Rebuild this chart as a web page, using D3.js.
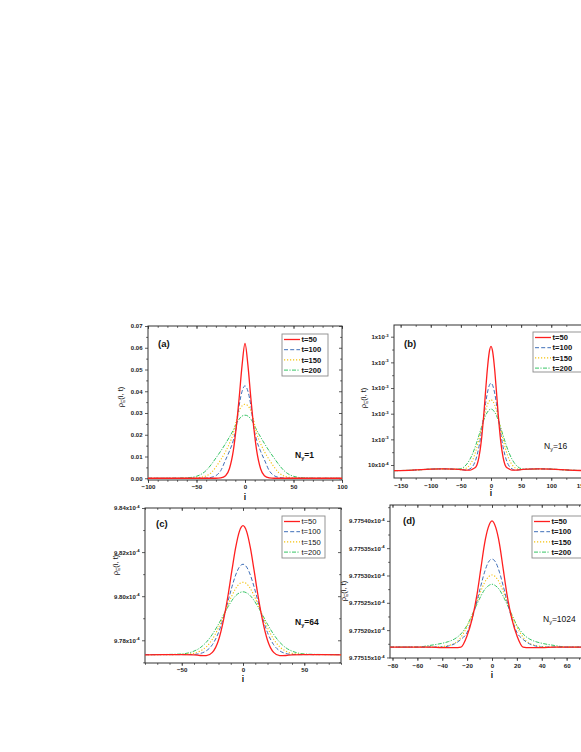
<!DOCTYPE html>
<html>
<head>
<meta charset="utf-8">
<script src="https://cdn.jsdelivr.net/npm/d3@7"></script>
<style>
body { margin: 0; background: #fff; }
svg { display: block; }
text { font-family: "Liberation Sans", Arial, sans-serif; }
</style>
</head>
<body>
<svg id="chart" width="581" height="752"></svg>
<script>
// legend entries and line styles
var times = ["t=50", "t=100", "t=150", "t=200"];
var colors = ["#ff1f1f", "#3f6fb8", "#f4c20d", "#35c463"];
var dashes = [null, "4,2.2", "1.2,1.8", "4,1.4,1.2,1.4"];
var widths = [1.3, 1, 1.1, 1];

// (a) N_y = 1
var xA = [-100,-80,-60,-50,-40,-35,-30,-25,-20,-16,-12,-9,-6,-3,0,3,6,9,12,16,20,25,30,35,40,50,60,80,100];
var a50  = [0,0,0,0,0,0,0,0.0002,0.0012,0.0045,0.0128,0.0235,0.037,0.052,0.062,0.052,0.037,0.0235,0.0128,0.0045,0.0012,0.0002,0,0,0,0,0,0,0];
var a100 = [0,0,0,0,0.0001,0.0004,0.0012,0.0035,0.0085,0.0125,0.0175,0.0235,0.0335,0.0400,0.0425,0.0400,0.0335,0.0235,0.0175,0.0125,0.0085,0.0035,0.0012,0.0004,0.0001,0,0,0,0];
var a150 = [0,0,0,0.0002,0.0011,0.0025,0.0052,0.0085,0.0123,0.0160,0.0207,0.0265,0.0310,0.0333,0.0340,0.0333,0.0310,0.0265,0.0207,0.0160,0.0123,0.0085,0.0052,0.0025,0.0011,0.0002,0,0,0];
var a200 = [0,0,0.0002,0.0009,0.0036,0.0062,0.0093,0.0125,0.0160,0.0190,0.0222,0.0250,0.0272,0.0286,0.0290,0.0286,0.0272,0.0250,0.0222,0.0190,0.0160,0.0125,0.0093,0.0062,0.0036,0.0009,0.0002,0,0];
var yTicksA = [0, 0.01, 0.02, 0.03, 0.04, 0.05, 0.06, 0.07];
var yLabelsA = ["0.00", "0.01", "0.02", "0.03", "0.04", "0.05", "0.06", "0.07"];
var xTicksA = [-100, -50, 0, 50, 100];

// (b) N_y = 16  (values in units of 10^-3)
var xB = [-161,-130,-100,-80,-60,-50,-40,-35,-30,-25,-20,-16,-12,-9,-6,-3,0,3,6,9,12,16,20,25,30,35,40,50,60,80,100,130,161];
var b50  = [0.99989,0.9999,0.99992,0.999925,0.99992,0.99991,0.9999,0.9999,0.999925,0.999965,1.000155,1.000475,1.00098,1.001435,1.00187,1.00219,1.00231,1.00219,1.00187,1.001435,1.00098,1.000475,1.000155,0.999965,0.999925,0.9999,0.9999,0.99991,0.99992,0.999925,0.99992,0.9999,0.99989];
var b100 = [0.99989,0.9999,0.99992,0.999925,0.99992,0.99991,0.9999,0.999925,0.99998,1.000115,1.000355,1.00063,1.000955,1.0012,1.001405,1.001545,1.001595,1.001545,1.001405,1.0012,1.000955,1.00063,1.000355,1.000115,0.99998,0.999925,0.9999,0.99991,0.99992,0.999925,0.99992,0.9999,0.99989];
var b150 = [0.99989,0.9999,0.99992,0.999925,0.99992,0.99991,0.999945,1.000005,1.00011,1.00028,1.000505,1.00071,1.00092,1.00106,1.001175,1.001245,1.00127,1.001245,1.001175,1.00106,1.00092,1.00071,1.000505,1.00028,1.00011,1.000005,0.999945,0.99991,0.99992,0.999925,0.99992,0.9999,0.99989];
var b200 = [0.99989,0.9999,0.99992,0.999925,0.999915,0.99993,1.00002,1.00011,1.000235,1.000395,1.00058,1.00073,1.000875,1.000965,1.00103,1.001075,1.00109,1.001075,1.00103,1.000965,1.000875,1.00073,1.00058,1.000395,1.000235,1.00011,1.00002,0.99993,0.999915,0.999925,0.99992,0.9999,0.99989];
var yTicksB = [1.0000, 1.0005, 1.0010, 1.0015, 1.0020, 1.0025];
var yLabelsB = ["10x10", "1x10", "1x10", "1x10", "1x10", "1x10"];
var yExpB = ["-4", "-3", "-3", "-3", "-3", "-3"];
var xTicksB = [-150, -100, -50, 0, 50, 100, 150];

// (c) N_y = 64  (values in units of 10^-4)
var xC = [-80,-60,-50,-40,-35,-30,-25,-20,-16,-12,-9,-6,-3,0,3,6,9,12,16,20,25,30,35,40,50,60,80];
var c50  = [9.7734,9.7735,9.7735,9.7734,9.7731,9.7730,9.7745,9.7800,9.7889,9.8011,9.8119,9.8220,9.8293,9.8320,9.8293,9.8220,9.8119,9.8011,9.7889,9.7800,9.7745,9.7730,9.7731,9.7734,9.7735,9.7735,9.7734];
var c100 = [9.7735,9.7735,9.7735,9.7736,9.7740,9.7752,9.7780,9.7835,9.7901,9.7982,9.8043,9.8096,9.8132,9.8145,9.8132,9.8096,9.8043,9.7982,9.7901,9.7835,9.7780,9.7752,9.7740,9.7736,9.7735,9.7735,9.7735];
var c150 = [9.7735,9.7735,9.7736,9.7741,9.7751,9.7770,9.7805,9.7857,9.7909,9.7965,9.8003,9.8035,9.8056,9.8063,9.8056,9.8035,9.8003,9.7965,9.7909,9.7857,9.7805,9.7770,9.7751,9.7741,9.7736,9.7735,9.7735];
var c200 = [9.7735,9.7736,9.7738,9.7751,9.7766,9.7791,9.7827,9.7873,9.7914,9.7954,9.7981,9.8002,9.8015,9.8020,9.8015,9.8002,9.7981,9.7954,9.7914,9.7873,9.7827,9.7791,9.7766,9.7751,9.7738,9.7736,9.7735];
var yTicksC = [9.78, 9.80, 9.82, 9.84];
var yLabelsC = ["9.78x10", "9.80x10", "9.82x10", "9.84x10"];
var xTicksC = [-50, 0, 50];

// (d) N_y = 1024  (values in units of 10^-4)
var xD = [-82,-60,-50,-40,-35,-30,-25,-20,-16,-12,-9,-6,-3,0,3,6,9,12,16,20,25,30,35,40,50,60,82];
var d50  = [9.775169,9.775169,9.775169,9.775168,9.775168,9.775168,9.775169,9.775190,9.775220,9.775266,9.775312,9.775358,9.775388,9.775400,9.775388,9.775358,9.775312,9.775266,9.775220,9.775190,9.775169,9.775168,9.775168,9.775168,9.775169,9.775169,9.775169];
var d100 = [9.775169,9.775169,9.775169,9.775169,9.775171,9.775175,9.775183,9.775196,9.775221,9.775254,9.775281,9.775306,9.775324,9.775330,9.775324,9.775306,9.775281,9.775254,9.775221,9.775196,9.775183,9.775175,9.775171,9.775169,9.775169,9.775169,9.775169];
var d150 = [9.775169,9.775169,9.775169,9.775170,9.775172,9.775176,9.775187,9.775206,9.775227,9.775252,9.775271,9.775287,9.775297,9.775301,9.775297,9.775287,9.775271,9.775252,9.775227,9.775206,9.775187,9.775176,9.775172,9.775170,9.775169,9.775169,9.775169];
var d200 = [9.775169,9.775169,9.775172,9.775176,9.775179,9.775184,9.775193,9.775209,9.775228,9.775248,9.775262,9.775274,9.775281,9.775284,9.775281,9.775274,9.775262,9.775248,9.775228,9.775209,9.775193,9.775184,9.775179,9.775176,9.775172,9.775169,9.775169];
var yTicksD = [9.77515, 9.77520, 9.77525, 9.77530, 9.77535, 9.77540];
var yLabelsD = ["9.77515x10", "9.77520x10", "9.77525x10", "9.77530x10", "9.77535x10", "9.77540x10"];
var xTicksD = [-80, -60, -40, -20, 0, 20, 40, 60];

var svg = d3.select("#chart");

var panels = [
  { name: "a", left: 148, right: 342, top: 326, bottom: 480,
    xDomain: [-100, 100], yDomain: [-0.0008, 0.07], xs: xA, series: [a50, a100, a150, a200],
    xTicks: xTicksA, xMinor: d3.range(-100, 101, 10), yTicks: yTicksA, yMinor: d3.range(0.005, 0.07, 0.01),
    yLabels: yLabelsA, yExp: null, tag: "(a)", ny: "1", nyBold: true, legBold: true,
    leg: [282, 334, 46, 42], tagPos: [158, 347], nyPos: [295, 458], ylab: [123, 397], xlabY: 500, xtickY: 489 },
  { name: "b", left: 394, right: 588, top: 325, bottom: 478,
    xDomain: [-161, 161], yDomain: [0.999747, 1.002728], xs: xB, series: [b50, b100, b150, b200],
    xTicks: xTicksB, xMinor: d3.range(-150, 151, 25), yTicks: yTicksB, yMinor: [1.00025, 1.00075, 1.00125, 1.00175, 1.00225],
    yLabels: yLabelsB, yExp: yExpB, tag: "(b)", ny: "16", nyBold: false, legBold: true,
    leg: [533, 332, 50, 40], tagPos: [404, 347], nyPos: [544, 449], ylab: [366, 398], xlabY: 496, xtickY: 488 },
  { name: "c", left: 145, right: 341, top: 508, bottom: 663,
    xDomain: [-80, 80], yDomain: [9.7697, 9.84], xs: xC, series: [c50, c100, c150, c200],
    xTicks: xTicksC, xMinor: d3.range(-80, 81, 10), yTicks: yTicksC, yMinor: [9.77, 9.79, 9.81, 9.83],
    yLabels: yLabelsC, yExp: ["-4", "-4", "-4", "-4"], tag: "(c)", ny: "64", nyBold: true, legBold: false,
    leg: [282, 516, 43, 42], tagPos: [156, 527], nyPos: [295, 625], ylab: [118, 565], xlabY: 682, xtickY: 671.5 },
  { name: "d", left: 390, right: 594, top: 505, bottom: 658,
    xDomain: [-82, 82], yDomain: [9.775149, 9.775429], xs: xD, series: [d50, d100, d150, d200],
    xTicks: xTicksD, xMinor: d3.range(-80, 81, 10), yTicks: yTicksD, yMinor: [9.775175, 9.775225, 9.775275, 9.775325, 9.775375, 9.775425],
    yLabels: yLabelsD, yExp: ["-4", "-4", "-4", "-4", "-4", "-4"], tag: "(d)", ny: "1024", nyBold: false, legBold: true,
    leg: [532, 516, 50, 42], tagPos: [403, 524], nyPos: [543, 622], ylab: [346, 591], xlabY: 678, xtickY: 668 }
];

function styleAxis(sel) {
  sel.select(".domain").remove();
  sel.selectAll(".tick line").attr("stroke", "#333").attr("stroke-width", 0.8);
  sel.selectAll(".tick text").attr("fill", "#222");
  sel.attr("font-family", null).attr("font-size", null);
}

function drawPanel(p) {
  var x = d3.scaleLinear().domain(p.xDomain).range([p.left, p.right]);
  var y = d3.scaleLinear().domain(p.yDomain).range([p.bottom, p.top]);
  var g = svg.append("g").attr("class", "panel-" + p.name);

  g.append("clipPath").attr("id", "clip-" + p.name)
    .append("rect")
    .attr("x", p.left).attr("y", p.top)
    .attr("width", p.right - p.left).attr("height", p.bottom - p.top);

  // minor ticks
  g.append("g").attr("transform", "translate(0," + p.bottom + ")")
    .call(d3.axisBottom(x).tickValues(p.xMinor).tickSize(1.8).tickFormat(""))
    .call(styleAxis);
  g.append("g").attr("transform", "translate(0," + p.top + ")")
    .call(d3.axisTop(x).tickValues(p.xMinor).tickSize(-1.8).tickFormat(""))
    .call(styleAxis);
  g.append("g").attr("transform", "translate(" + p.left + ",0)")
    .call(d3.axisLeft(y).tickValues(p.yMinor).tickSize(1.8).tickFormat(""))
    .call(styleAxis);
  g.append("g").attr("transform", "translate(" + p.right + ",0)")
    .call(d3.axisRight(y).tickValues(p.yMinor).tickSize(-1.8).tickFormat(""))
    .call(styleAxis);

  // major ticks
  var xb = g.append("g").attr("transform", "translate(0," + p.bottom + ")")
    .call(d3.axisBottom(x).tickValues(p.xTicks).tickSize(3).tickPadding(3).tickFormat(d3.format("d")))
    .call(styleAxis);
  xb.selectAll(".tick text").attr("font-size", 6.2).attr("font-weight", "bold")
    .attr("y", null).attr("dy", null)
    .attr("transform", "translate(0," + (p.xtickY - p.bottom) + ")");
  g.append("g").attr("transform", "translate(0," + p.top + ")")
    .call(d3.axisTop(x).tickValues(p.xTicks).tickSize(-3).tickFormat(""))
    .call(styleAxis);
  var yl = g.append("g").attr("transform", "translate(" + p.left + ",0)")
    .call(d3.axisLeft(y).tickValues(p.yTicks).tickSize(3).tickPadding(2.5)
      .tickFormat(function(d, i) { return p.yLabels[i]; }))
    .call(styleAxis);
  yl.selectAll(".tick text").attr("font-size", 6).attr("font-weight", "bold");
  if (p.yExp) {
    yl.selectAll(".tick text").each(function(d, i) {
      d3.select(this).append("tspan").attr("dy", "-0.55em").attr("font-size", 4.2).text(p.yExp[i]);
    });
  }
  g.append("g").attr("transform", "translate(" + p.right + ",0)")
    .call(d3.axisRight(y).tickValues(p.yTicks).tickSize(-3).tickFormat(""))
    .call(styleAxis);

  // frame
  g.append("rect")
    .attr("x", p.left).attr("y", p.top)
    .attr("width", p.right - p.left).attr("height", p.bottom - p.top)
    .attr("fill", "none").attr("stroke", "#333").attr("stroke-width", 1);

  // curves
  var line = d3.line()
    .x(function(d) { return x(d[0]); })
    .y(function(d) { return y(d[1]); })
    .curve(d3.curveMonotoneX);
  var lines = g.append("g").attr("clip-path", "url(#clip-" + p.name + ")");
  [3, 2, 1, 0].forEach(function(k) {
    var pts = p.xs.map(function(xv, i) { return [xv, p.series[k][i]]; });
    lines.append("path")
      .attr("d", line(pts))
      .attr("fill", "none")
      .attr("stroke", colors[k])
      .attr("stroke-width", widths[k])
      .attr("stroke-dasharray", dashes[k]);
  });

  // legend
  var lg = g.append("g");
  lg.append("rect")
    .attr("x", p.leg[0]).attr("y", p.leg[1])
    .attr("width", p.leg[2]).attr("height", p.leg[3])
    .attr("fill", "#fff").attr("stroke", "#8a8a8a").attr("stroke-width", 0.9);
  times.forEach(function(t, k) {
    var yy = p.leg[1] + 5.5 + k * 10.2;
    lg.append("line")
      .attr("x1", p.leg[0] + 2).attr("x2", p.leg[0] + 18)
      .attr("y1", yy).attr("y2", yy)
      .attr("stroke", colors[k]).attr("stroke-width", widths[k])
      .attr("stroke-dasharray", dashes[k]);
    lg.append("text")
      .attr("x", p.leg[0] + 19.5).attr("y", yy + 2.7)
      .attr("font-size", 7.6)
      .attr("font-weight", p.legBold ? "bold" : "normal")
      .attr("fill", "#111")
      .text(t);
  });

  // panel tag and N_y
  g.append("text")
    .attr("x", p.tagPos[0]).attr("y", p.tagPos[1])
    .attr("font-size", 9.5).attr("font-weight", "bold").attr("fill", "#111")
    .text(p.tag);
  var ny = g.append("text")
    .attr("x", p.nyPos[0]).attr("y", p.nyPos[1])
    .attr("font-size", 8.5).attr("font-weight", p.nyBold ? "bold" : "normal").attr("fill", "#111");
  ny.append("tspan").text("N");
  ny.append("tspan").attr("dy", 2).attr("font-size", 5.5).text("y");
  ny.append("tspan").attr("dy", -2).text("=" + p.ny);

  // axis titles
  g.append("text")
    .attr("x", x(0))
    .attr("y", p.xlabY)
    .attr("text-anchor", "middle")
    .attr("font-size", 8.5).attr("font-weight", "bold").attr("fill", "#111")
    .text("i");
  var yt = g.append("text")
    .attr("transform", "translate(" + p.ylab[0] + "," + p.ylab[1] + ") rotate(-90)")
    .attr("text-anchor", "middle")
    .attr("font-size", 7.5).attr("fill", "#111");
  yt.append("tspan").text("ρ");
  yt.append("tspan").attr("dy", 1.8).attr("font-size", 5).text("E");
  yt.append("tspan").attr("dy", -1.8).text("(i, t)");
}

panels.forEach(drawPanel);
</script>
</body>
</html>
